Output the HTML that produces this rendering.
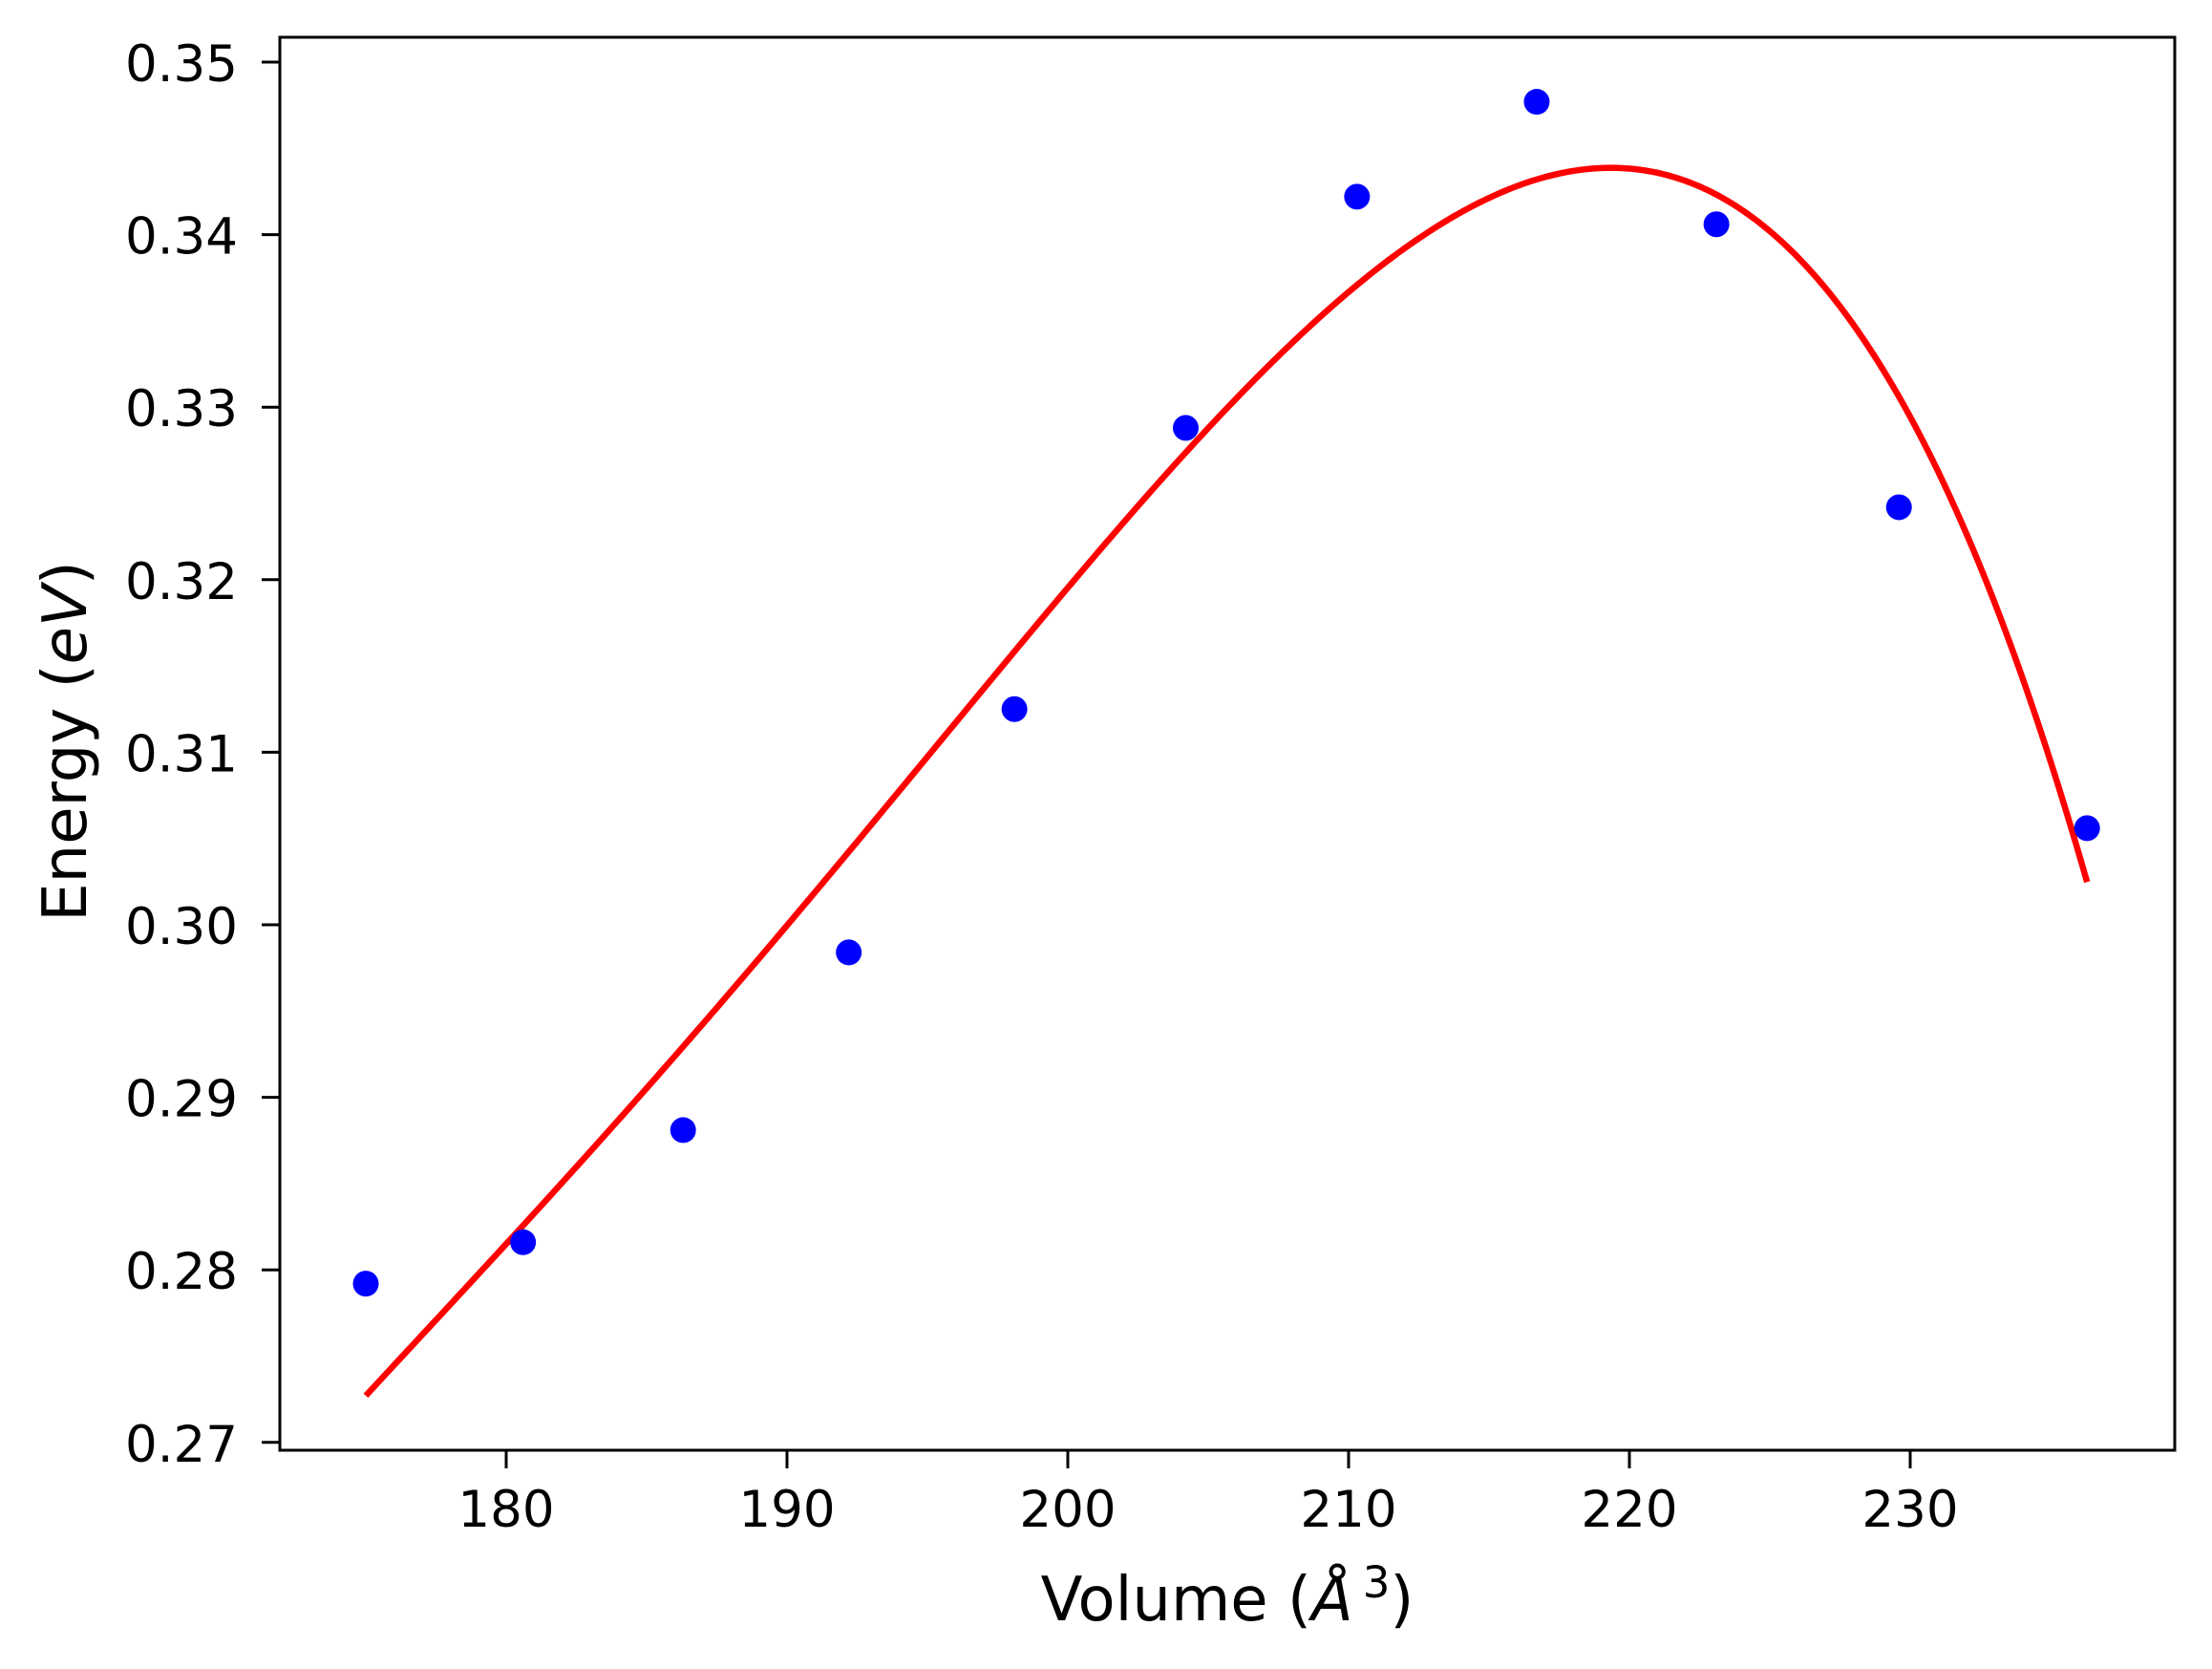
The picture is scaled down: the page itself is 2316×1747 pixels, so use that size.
<!DOCTYPE html>
<html><head><meta charset="utf-8"><style>
html,body{margin:0;padding:0;background:#fff;}
svg{display:block;font-family:"DejaVu Sans","Liberation Sans",sans-serif;}
</style></head><body>
<svg id="chart" width="2316" height="1747" viewBox="0 0 2316 1747">
<rect x="0" y="0" width="2316" height="1747" fill="#fff"/>
<g id="ticks"></g>
<g id="curve-layer"></g>
<g id="points"></g>
<rect x="293" y="39" width="1984" height="1479" fill="none" stroke="#000" stroke-width="3"/>
<text x="1285" y="1696" font-size="64" text-anchor="middle">Volume (<tspan font-style="italic">Å</tspan><tspan font-size="45" dx="10" dy="-24">3</tspan><tspan dy="24">)</tspan></text>
<text transform="translate(90,776) rotate(-90)" font-size="64" text-anchor="middle">Energy (<tspan font-style="italic">eV</tspan>)</text>
</svg>
<script>
const xTicks = [180, 190, 200, 210, 220, 230];
const yTicks = [0.27, 0.28, 0.29, 0.30, 0.31, 0.32, 0.33, 0.34, 0.35];
const yTickLabels = ["0.27","0.28","0.29","0.30","0.31","0.32","0.33","0.34","0.35"];
const volumes = [175.0, 180.6, 186.3, 192.2, 198.1, 204.2, 210.3, 216.7, 223.1, 229.6, 236.3];
const energies = [0.2792, 0.2816, 0.2881, 0.2984, 0.3125, 0.3288, 0.3422, 0.3477, 0.3406, 0.3242, 0.3056];
const fitX = [175.0, 180, 185, 190, 195, 200, 205, 210, 215, 220, 225, 230, 233, 236.3];
const fitY = [0.2731, 0.2807, 0.2907, 0.3000, 0.3102, 0.3195, 0.3287, 0.3366, 0.3420, 0.3439, 0.3397, 0.3297, 0.3195, 0.3019];

const NS = "http://www.w3.org/2000/svg";
function sx(v){ return 530 + (v - 180) * 29.4; }
function sy(v){ return 65 + (0.35 - v) * 18060; }

const tg = document.getElementById('ticks');
xTicks.forEach(t => {
  const l = document.createElementNS(NS,'line');
  l.setAttribute('x1', sx(t)); l.setAttribute('x2', sx(t));
  l.setAttribute('y1', 1518); l.setAttribute('y2', 1537);
  l.setAttribute('stroke','#000'); l.setAttribute('stroke-width','3');
  
  
  tg.appendChild(l);
  const tx = document.createElementNS(NS,'text');
  tx.setAttribute('x', sx(t)); tx.setAttribute('y', 1598);
  tx.setAttribute('font-size','53'); tx.setAttribute('text-anchor','middle');
  tx.textContent = String(t);
  
  
  tg.appendChild(tx);
});
yTicks.forEach((t,i) => {
  const l = document.createElementNS(NS,'line');
  l.setAttribute('x1', 274); l.setAttribute('x2', 293);
  l.setAttribute('y1', sy(t)); l.setAttribute('y2', sy(t));
  l.setAttribute('stroke','#000'); l.setAttribute('stroke-width','3');
  
  
  tg.appendChild(l);
  const tx = document.createElementNS(NS,'text');
  tx.setAttribute('x', 249); tx.setAttribute('y', sy(t) + 20);
  tx.setAttribute('font-size','53'); tx.setAttribute('text-anchor','end');
  tx.textContent = yTickLabels[i];
  
  
  tg.appendChild(tx);
});

// smooth least-squares polynomial (degree 4) through the fit samples
function polyfit(xs, ys, deg){
  const m = (xs[0] + xs[xs.length-1]) / 2, s = (xs[xs.length-1] - xs[0]) / 2;
  const n = deg + 1;
  const A = []; for (let i=0;i<n;i++){ A.push(new Array(n+1).fill(0)); }
  xs.forEach((x,k) => {
    const u = (x - m) / s;
    const pw = []; for (let i=0;i<2*n;i++) pw.push(Math.pow(u,i));
    for (let i=0;i<n;i++){ for (let j=0;j<n;j++) A[i][j] += pw[i+j]; A[i][n] += pw[i]*ys[k]; }
  });
  for (let i=0;i<n;i++){
    let p=i; for (let r=i+1;r<n;r++) if (Math.abs(A[r][i])>Math.abs(A[p][i])) p=r;
    [A[i],A[p]]=[A[p],A[i]];
    for (let r=0;r<n;r++){ if (r===i) continue; const f=A[r][i]/A[i][i]; for (let c=i;c<=n;c++) A[r][c]-=f*A[i][c]; }
  }
  const c = A.map((row,i)=>row[n]/row[i]);
  return x => { const u=(x-m)/s; let v=0; for (let i=n-1;i>=0;i--) v=v*u+c[i]; return v; };
}
const f = polyfit(fitX, fitY, 4);
const x0 = fitX[0], x1 = fitX[fitX.length-1];
let d = '';
for (let i = 0; i <= 300; i++) {
  const x = x0 + (x1 - x0) * i / 300;
  d += (i ? ' L' : 'M') + sx(x).toFixed(2) + ',' + sy(f(x)).toFixed(2);
}
const path = document.createElementNS(NS,'path');
path.setAttribute('d', d);
path.setAttribute('fill','none'); path.setAttribute('stroke','#ff0000'); path.setAttribute('stroke-width','6.5');
path.setAttribute('stroke-linejoin','round');


document.getElementById('curve-layer').appendChild(path);

const pg = document.getElementById('points');
volumes.forEach((v,i) => {
  const c = document.createElementNS(NS,'circle');
  c.setAttribute('cx', sx(v)); c.setAttribute('cy', sy(energies[i]));
  c.setAttribute('r', 13.5); c.setAttribute('fill', '#0000ff');
  
  
  pg.appendChild(c);
});
</script>
</body></html>
